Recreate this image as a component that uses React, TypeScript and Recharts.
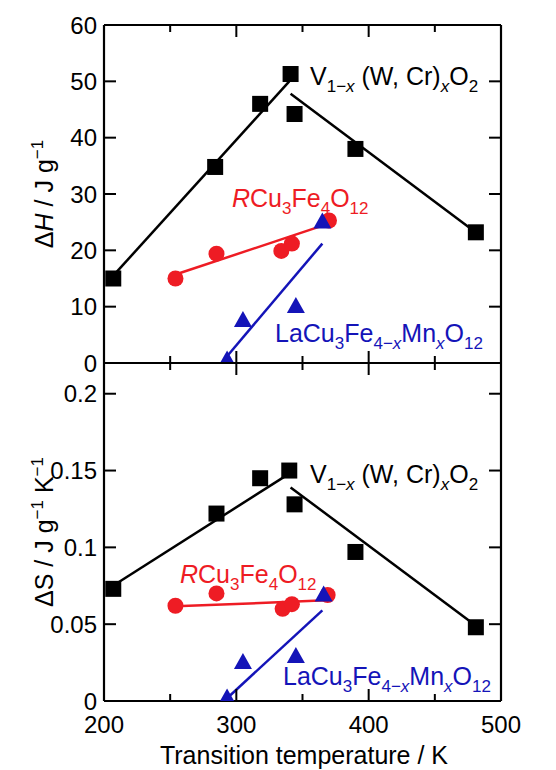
import React from 'react';
import { ScatterChart, Scatter, XAxis, YAxis } from 'recharts';

const FONT = '"Liberation Sans", Arial, Helvetica, sans-serif';
const RED = '#ee1c24';
const BLUE = '#1414b8';

// shared x axis
const xTicks = [200, 250, 300, 350, 400, 450, 500];

// upper panel: ΔH (J g^-1)
const hTicks = [0, 10, 20, 30, 40, 50, 60];
const vTempH = [207, 284, 318, 341, 344, 390, 481];
const vDeltaH = [15, 34.8, 46, 51.3, 44.2, 38, 23.2];
const rTempH = [254, 285, 334, 342, 370];
const rDeltaH = [15, 19.4, 19.9, 21.2, 25.3];
const laTempH = [293, 305, 345, 365];
const laDeltaH = [0.8, 7.8, 10.3, 25.3];
const vFitLowH = [[207, 15.5], [340, 50]];
const vFitHighH = [[341, 47.8], [478, 23.7]];
const rFitH = [[254, 15.7], [368, 24.6]];
const laFitH = [[293, 1.2], [365, 21.2]];

// lower panel: ΔS (J g^-1 K^-1)
const sTicks = [0, 0.05, 0.1, 0.15, 0.2];
const vTempS = [207, 285, 318, 340, 344, 390, 481];
const vDeltaS = [0.073, 0.122, 0.145, 0.15, 0.128, 0.097, 0.048];
const rTempS = [254, 285, 335, 342, 369];
const rDeltaS = [0.062, 0.07, 0.06, 0.063, 0.069];
const laTempS = [293, 305, 345, 366];
const laDeltaS = [0.003, 0.026, 0.03, 0.07];
const vFitLowS = [[208, 0.0757], [340, 0.148]];
const vFitHighS = [[341, 0.139], [478, 0.051]];
const rFitS = [[254, 0.0616], [368, 0.0655]];
const laFitS = [[293, 0.0018], [365, 0.059]];

const pts = (xs: number[], ys: number[]) => xs.map((x, i) => ({ x, y: ys[i] }));
const pairs = (p: number[][]) => p.map(([x, y]) => ({ x, y }));

const Square = (p: any) => <rect x={p.cx - 8} y={p.cy - 8} width={16} height={16} fill="#000" />;
const Dot = (p: any) => <circle cx={p.cx} cy={p.cy} r={8} fill={RED} />;
const Tri = (p: any) => (
  <polygon points={`${p.cx},${p.cy - 8} ${p.cx + 9},${p.cy + 8} ${p.cx - 9},${p.cy + 8}`} fill={BLUE} />
);
const NoDot = () => <g />;

const XTick = ({ x, y, payload, dir, labels }: any) => {
  const major = payload.value % 100 === 0;
  return (
    <g>
      <line x1={x} x2={x} y1={y} y2={y + dir * (major ? 12 : 7)} stroke="#000" strokeWidth={2} />
      {labels && major ? (
        <text x={x} y={y + 32} textAnchor="middle" fontSize={24} fontFamily={FONT} fill="#000">
          {payload.value}
        </text>
      ) : null}
    </g>
  );
};

const YTick = ({ x, y, payload, dir, labels }: any) => (
  <g>
    <line x1={x} x2={x + dir * 12} y1={y} y2={y} stroke="#000" strokeWidth={2} />
    {labels ? (
      <text x={x - 7} y={y + 8.5} textAnchor="end" fontSize={24} fontFamily={FONT} fill="#000">
        {payload.value}
      </text>
    ) : null}
  </g>
);

const AXIS = { stroke: '#000', strokeWidth: 2.2 };

const Panel = ({ height, margin, yDomain, yTicks, squares, dots, tris, fits, showX }: any) => (
  <ScatterChart width={556} height={height} margin={margin}>
    <XAxis xAxisId="b" orientation="bottom" dataKey="x" type="number" domain={[200, 500]} ticks={xTicks}
      allowDataOverflow interval={0} height={1} tickSize={0} tickMargin={0} tickLine={false} axisLine={AXIS}
      tick={(p: any) => <XTick {...p} dir={-1} labels={showX} />} />
    <XAxis xAxisId="t" orientation="top" dataKey="x" type="number" domain={[200, 500]} ticks={xTicks}
      allowDataOverflow interval={0} height={1} tickSize={0} tickMargin={0} tickLine={false} axisLine={AXIS}
      tick={(p: any) => <XTick {...p} dir={1} labels={false} />} />
    <YAxis yAxisId="l" orientation="left" dataKey="y" type="number" domain={yDomain} ticks={yTicks}
      allowDataOverflow interval={0} width={1} tickSize={0} tickMargin={0} tickLine={false} axisLine={AXIS}
      tick={(p: any) => <YTick {...p} dir={1} labels />} />
    <YAxis yAxisId="r" orientation="right" dataKey="y" type="number" domain={yDomain} ticks={yTicks}
      allowDataOverflow interval={0} width={1} tickSize={0} tickMargin={0} tickLine={false} axisLine={AXIS}
      tick={(p: any) => <YTick {...p} dir={-1} labels={false} />} />
    {fits.map((f: any, i: number) => (
      <Scatter key={`fit-${i}`} xAxisId="b" yAxisId="l" data={f.data} shape={NoDot}
        line={{ stroke: f.color, strokeWidth: 2.5 }} isAnimationActive={false} />
    ))}
    <Scatter xAxisId="b" yAxisId="l" data={squares} shape={Square} isAnimationActive={false} />
    <Scatter xAxisId="b" yAxisId="l" data={dots} shape={Dot} isAnimationActive={false} />
    <Scatter xAxisId="b" yAxisId="l" data={tris} shape={Tri} isAnimationActive={false} />
  </ScatterChart>
);

// rich text: [text, mode]; mode: '' normal, 'i' italic, 's' subscript, 'si' italic subscript, 'p' superscript
const Rich = ({ parts, size }: { parts: [string, string][]; size: number }) => {
  let shift = 0;
  const small = Math.round(size * 0.68);
  return (
    <>
      {parts.map(([t, m], i) => {
        const target = m.includes('s') ? size * 0.28 : m.includes('p') ? -size * 0.4 : 0;
        const dy = target - shift;
        shift = target;
        return (
          <tspan key={i} dy={dy} fontSize={target !== 0 ? small : size} fontStyle={m.includes('i') ? 'italic' : 'normal'}>
            {t}
          </tspan>
        );
      })}
    </>
  );
};

const vLabel: [string, string][] = [['V', ''], ['1−', 's'], ['x', 'si'], [' (W, Cr)', ''], ['x', 'si'], ['O', ''], ['2', 's']];
const rLabel: [string, string][] = [['R', 'i'], ['Cu', ''], ['3', 's'], ['Fe', ''], ['4', 's'], ['O', ''], ['12', 's']];
const laLabel: [string, string][] = [['LaCu', ''], ['3', 's'], ['Fe', ''], ['4−', 's'], ['x', 'si'], ['Mn', ''], ['x', 'si'], ['O', ''], ['12', 's']];

export default function App() {
  return (
    <div style={{ position: 'absolute', left: 0, top: 0, width: 556, height: 770, background: '#fff', fontFamily: FONT }}>
      <div style={{ position: 'absolute', left: 0, top: 0 }}>
        <Panel height={380} margin={{ top: 24, right: 54, bottom: 16, left: 103 }}
          yDomain={[0, 60]} yTicks={hTicks} showX={false}
          squares={pts(vTempH, vDeltaH)} dots={pts(rTempH, rDeltaH)} tris={pts(laTempH, laDeltaH)}
          fits={[
            { data: pairs(vFitLowH), color: '#000' },
            { data: pairs(vFitHighH), color: '#000' },
            { data: pairs(rFitH), color: RED },
            { data: pairs(laFitH), color: BLUE },
          ]} />
      </div>
      <div style={{ position: 'absolute', left: 0, top: 340 }}>
        <Panel height={430} margin={{ top: 22, right: 54, bottom: 68, left: 103 }}
          yDomain={[0, 0.22]} yTicks={sTicks} showX
          squares={pts(vTempS, vDeltaS)} dots={pts(rTempS, rDeltaS)} tris={pts(laTempS, laDeltaS)}
          fits={[
            { data: pairs(vFitLowS), color: '#000' },
            { data: pairs(vFitHighS), color: '#000' },
            { data: pairs(rFitS), color: RED },
            { data: pairs(laFitS), color: BLUE },
          ]} />
      </div>
      <svg width={556} height={770} style={{ position: 'absolute', left: 0, top: 0, pointerEvents: 'none' }} fontFamily={FONT}>
        <text x={310} y={85} fill="#000"><Rich parts={vLabel} size={25} /></text>
        <text x={232} y={207} fill={RED}><Rich parts={rLabel} size={25} /></text>
        <text x={275} y={342} fill={BLUE}><Rich parts={laLabel} size={25} /></text>
        <text x={310} y={483} fill="#000"><Rich parts={vLabel} size={25} /></text>
        <text x={180} y={583} fill={RED}><Rich parts={rLabel} size={25} /></text>
        <text x={283} y={685} fill={BLUE}><Rich parts={laLabel} size={25} /></text>
        <text transform="rotate(-90)" x={-194} y={53} textAnchor="middle" fill="#000">
          <Rich parts={[['Δ', ''], ['H', 'i'], [' / J g', ''], ['−1', 'p']]} size={25} />
        </text>
        <text transform="rotate(-90)" x={-532} y={53} textAnchor="middle" fill="#000">
          <Rich parts={[['ΔS / J g', ''], ['−1', 'p'], [' K', ''], ['−1', 'p']]} size={25} />
        </text>
        <text x={304} y={764} textAnchor="middle" fontSize={25} fill="#000">Transition temperature / K</text>
      </svg>
    </div>
  );
}
